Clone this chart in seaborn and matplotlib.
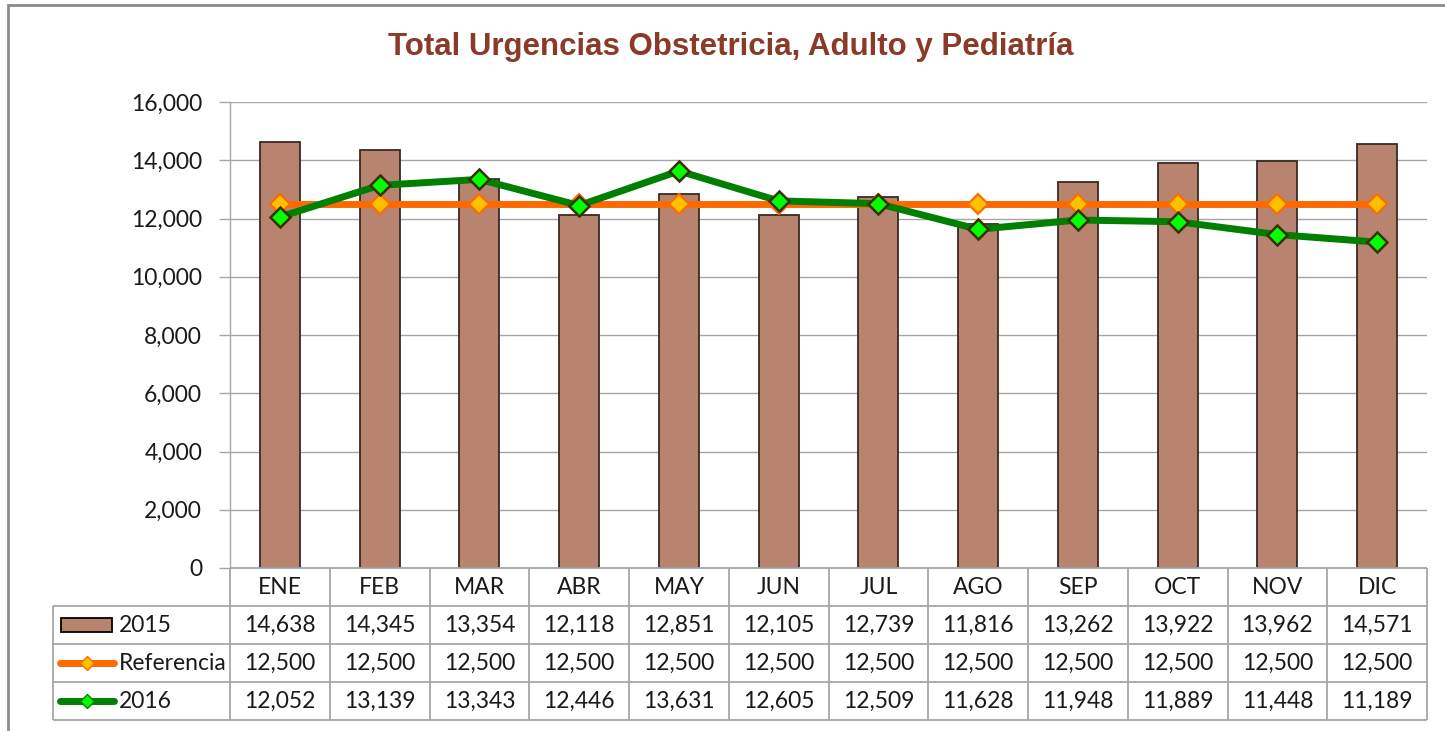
import numpy as np
import pandas as pd
import matplotlib
matplotlib.use('Agg')
import matplotlib.pyplot as plt
import seaborn as sns

# ── datos ──────────────────────────────────────────────
meses = ['ENE', 'FEB', 'MAR', 'ABR', 'MAY', 'JUN',
         'JUL', 'AGO', 'SEP', 'OCT', 'NOV', 'DIC']
v2015 = [14638, 14345, 13354, 12118, 12851, 12105,
         12739, 11816, 13262, 13922, 13962, 14571]
referencia = [12500] * 12
v2016 = [12052, 13139, 13343, 12446, 13631, 12605,
         12509, 11628, 11948, 11889, 11448, 11189]
series = ['2015', 'Referencia', '2016']
yticks = [0, 2000, 4000, 6000, 8000, 10000, 12000, 14000, 16000]

titulo = 'Total Urgencias Obstetricia, Adulto y Pediatría'

# colores
c_bar, c_bar_edge = '#B9846F', '#3A2A22'
c_ref, c_ref_mk = '#FF6A00', '#FFC000'
c_16, c_16_mk, c_16_edge = '#007F00', '#00FF00', '#3A3000'
c_grid = '#A6A6A6'
c_txt = '#1A1A1A'
fs = 16.5

sns.set_theme(style='white')
plt.rcParams['font.family'] = ['Lato', 'DejaVu Sans']

W, H = 1445, 731
fig = plt.figure(figsize=(W / 100, H / 100), dpi=100)
fig.patch.set_facecolor('white')


def px_axes(x0, y0, x1, y1):
    # axes from pixel box (top-left origin)
    return fig.add_axes([x0 / W, 1 - y1 / H, (x1 - x0) / W, (y1 - y0) / H])


# marco del gráfico
frame = plt.Rectangle((8 / W, -0.1), 1.2, 1 - 5 / H + 0.1, transform=fig.transFigure,
                      fill=False, edgecolor='#8C8C8C', linewidth=2)
fig.patches.append(frame)

# ── área de trazado ────────────────────────────────────
PX0, PX1, PY0, PY1 = 230, 1427, 102, 568
ax = px_axes(PX0, PY0, PX1, PY1)
df = pd.DataFrame({'mes': meses, 'pos': np.arange(len(meses)),
                   '2015': v2015, 'Referencia': referencia, '2016': v2016})

sns.barplot(data=df, x='mes', y='2015', ax=ax, color=c_bar, saturation=1,
            width=0.4, edgecolor=c_bar_edge, linewidth=1.3, zorder=2)
sns.lineplot(data=df, x='pos', y='Referencia', ax=ax, color=c_ref, linewidth=5,
             marker='D', markersize=10, markerfacecolor=c_ref_mk,
             markeredgecolor=c_ref, markeredgewidth=1.5, zorder=3)
sns.lineplot(data=df, x='pos', y='2016', ax=ax, color=c_16, linewidth=5,
             marker='D', markersize=10, markerfacecolor=c_16_mk,
             markeredgecolor=c_16_edge, markeredgewidth=1.8, zorder=4)

ax.set_xlim(-0.5, len(meses) - 0.5)
ax.set_ylim(0, 16000)
ax.set_yticks(yticks)
ax.set_yticklabels([f'{t:,}' for t in yticks], fontsize=fs, color=c_txt)
ax.yaxis.grid(True, color=c_grid, linewidth=1)
ax.set_axisbelow(True)
ax.tick_params(axis='y', length=8, width=1, color=c_grid, pad=12, left=True)
ax.tick_params(axis='x', length=0, labelbottom=False)
ax.set_xlabel('')
ax.set_ylabel('')
for s in ['top', 'right', 'bottom']:
    ax.spines[s].set_visible(False)
ax.spines['left'].set_color(c_grid)
ax.spines['left'].set_linewidth(1)
ax.set_facecolor('none')

fig.text(0.506, 1 - 47 / H, titulo, ha='center', va='center', fontsize=22.5,
         fontweight='bold', color='#8C3A28',
         family=['Liberation Sans Narrow', 'Liberation Sans', 'DejaVu Sans'])

# ── tabla de datos ─────────────────────────────────────
TX0, TY0, TY1 = 53, 568, 720
at = px_axes(TX0, TY0, PX1, TY1)
at.set_xlim(TX0, PX1)
at.set_ylim(TY1, TY0)
at.axis('off')
colw = (PX1 - PX0) / len(meses)
rowh = (TY1 - TY0) / 4
rows_y = [TY0 + i * rowh for i in range(5)]
lk = dict(color=c_grid, linewidth=1.3, solid_capstyle='butt', clip_on=False)

at.plot([PX0, PX1], [rows_y[0]] * 2, **lk)
for yy in rows_y[1:]:
    at.plot([TX0, PX1], [yy] * 2, **lk)
for i in range(len(meses) + 1):
    xx = PX0 + i * colw
    at.plot([xx, xx], [rows_y[0], rows_y[4]], **lk)
at.plot([TX0, TX0], [rows_y[1], rows_y[4]], **lk)

for i, m in enumerate(meses):
    cx = PX0 + (i + 0.5) * colw
    at.text(cx, rows_y[0] + rowh / 2, m, ha='center', va='center',
            fontsize=fs, color=c_txt)
    for r, vals in enumerate([v2015, referencia, v2016]):
        at.text(cx, rows_y[r + 1] + rowh / 2, f'{vals[i]:,}', ha='center',
                va='center', fontsize=fs, color=c_txt)

# claves de leyenda
cy = [rows_y[r + 1] + rowh / 2 for r in range(3)]
at.add_patch(plt.Rectangle((61, cy[0] - 7), 51, 14, facecolor=c_bar,
                           edgecolor='black', linewidth=1.3))
at.plot([60, 114], [cy[1]] * 2, color=c_ref, linewidth=5, solid_capstyle='round')
at.plot([87], [cy[1]], marker='D', markersize=7, color=c_ref_mk,
        markeredgecolor=c_ref, markeredgewidth=1)
at.plot([60, 114], [cy[2]] * 2, color=c_16, linewidth=5, solid_capstyle='round')
at.plot([87], [cy[2]], marker='D', markersize=7, color=c_16_mk,
        markeredgecolor=c_16, markeredgewidth=1)
for r, s in enumerate(series):
    at.text(119, cy[r], s, ha='left', va='center', fontsize=fs, color=c_txt)

fig.savefig('out.png', dpi=100, facecolor='white')
